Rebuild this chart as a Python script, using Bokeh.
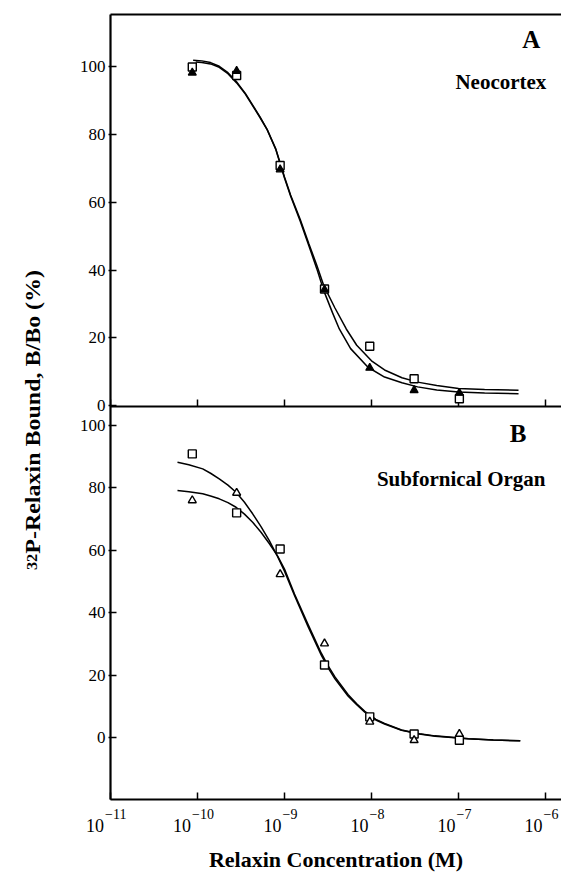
from bokeh.plotting import figure
from bokeh.models import (Range1d, FixedTicker, LogAxis, Label, Div, Span,
                          CustomJSTickFormatter)
from bokeh.layouts import row, column
from bokeh.core.properties import value
from bokeh.embed import file_html
from bokeh.resources import INLINE

# ---------------- data ----------------
# log10 of relaxin concentration (M) for the measured points
log_conc = [-10.06, -9.55, -9.05, -8.54, -8.02, -7.51, -6.99]

# Panel A: Neocortex
neo_square = [100.0, 97.5, 70.9, 34.4, 17.5, 7.9, 2.0]
neo_triangle = [98.3, 98.8, 69.7, 34.2, 11.1, 4.5, 3.7]

# Panel B: Subfornical Organ
sfo_square = [90.9, 72.0, 60.4, 23.2, 6.6, 1.1, -0.9]
sfo_triangle = [76.0, 78.4, 52.3, 30.1, 5.0, -0.9, 1.1]

# fitted curves
neo_sq_curve_x = [-10.05, -9.95, -9.85, -9.75, -9.65, -9.55, -9.45, -9.36, -9.28, -9.2, -9.1,
                  -9.0, -8.93, -8.82, -8.72, -8.63, -8.55, -8.42, -8.29, -8.17, -8.0, -7.85,
                  -7.65, -7.47, -7.25, -7.0, -6.7, -6.31]
neo_sq_curve_y = [102.0, 101.8, 101.3, 100.2, 98.3, 95.6, 92.2, 88.5, 85.2, 81.6, 75.8,
                  67.5, 62.2, 55.0, 47.8, 41.5, 35.5, 28.8, 22.6, 17.8, 13.2, 10.5,
                  8.2, 6.9, 5.9, 5.0, 4.7, 4.5]
neo_tri_curve_x = [-10.02, -9.95, -9.85, -9.75, -9.65, -9.55, -9.45, -9.36, -9.28, -9.2, -9.1,
                   -9.0, -8.93, -8.82, -8.72, -8.63, -8.55, -8.45, -8.37, -8.24, -8.04, -7.85,
                   -7.65, -7.47, -7.25, -7.0, -6.7, -6.31]
neo_tri_curve_y = [101.5, 101.3, 100.9, 99.9, 98.0, 95.3, 92.0, 88.3, 85.0, 81.5, 75.6,
                   67.2, 61.9, 54.5, 47.2, 40.5, 34.0, 27.5, 22.6, 16.8, 11.3, 8.4,
                   6.7, 5.5, 4.6, 4.0, 3.7, 3.5]

sfo_curve_x = [-10.23, -10.1, -9.94, -9.85, -9.75, -9.65, -9.557, -9.46, -9.366, -9.27, -9.173,
               -9.08, -9.0, -8.885, -8.73, -8.577, -8.5, -8.42, -8.27, -8.17, -8.077, -7.95,
               -7.85, -7.655, -7.45, -7.27, -6.887, -6.6, -6.29]
sfo_sq_curve_y = [88.2, 87.4, 86.1, 84.7, 82.9, 80.9, 78.6, 75.4, 71.7, 67.6, 63.0,
                  58.0, 53.3, 45.5, 35.6, 26.4, 22.4, 18.8, 13.3, 10.5, 8.1, 5.6,
                  4.3, 2.3, 1.1, 0.4, -0.4, -0.8, -1.1]
sfo_tri_curve_y = [79.2, 78.8, 78.1, 77.4, 76.5, 75.3, 73.8, 71.6, 69.0, 65.8, 62.1,
                   58.2, 54.0, 46.0, 36.3, 27.0, 23.0, 19.4, 13.8, 10.8, 8.4, 5.8,
                   4.5, 2.4, 1.2, 0.5, -0.4, -0.8, -1.1]

x_ticks = [1e-11, 1e-10, 1e-9, 1e-8, 1e-7, 1e-6]
x_tick_base = ["10", "10", "10", "10", "10", "10"]
x_tick_exp = ["\u221211", "\u221210", "\u22129", "\u22128", "\u22127", "\u22126"]
y_ticks = [0, 20, 40, 60, 80, 100]

x_title = "Relaxin Concentration (M)"
y_title_sup = "32"
y_title_rest = "P-Relaxin Bound, B/Bo (%)"
panel_a = "A"
panel_b = "B"
name_a = "Neocortex"
name_b = "Subfornical Organ"

# ---------------- layout constants ----------------
FONT = "Liberation Serif"
INK = "black"
LEFT_W = 56            # width of the rotated y-title column
FIG_W = 505
BORDER_L = 54
TOP_PAD = 14
H_A, H_B = 392, 393    # frame heights of panel A and panel B (px)
FRAME_H = H_A + H_B
X_LO_LOG, X_HI_LOG = -11.0, -5.816
A_LO, A_HI = -0.3, 115.5     # panel A value range (bottom, top)
B_LO, B_HI = -19.9, 106.1    # panel B value range (bottom, top)

# one frame holds both panels: panel B uses the main y range, panel A an extra one
b_scale = H_B / (B_HI - B_LO)
a_scale = H_A / (A_HI - A_LO)
main_hi = B_LO + FRAME_H / b_scale
a_lo_full = A_LO - H_B / a_scale


def a_to_main(v):
    return B_LO + (v - a_lo_full) * a_scale / b_scale


def tolin(xs):
    return [10 ** v for v in xs]


x_range = Range1d(10 ** X_LO_LOG, 10 ** X_HI_LOG)
blank = CustomJSTickFormatter(code="return ''")

p = figure(width=FIG_W, height=TOP_PAD + FRAME_H + 2, x_axis_type="log", x_range=x_range,
           y_range=Range1d(B_LO, main_hi), output_backend="svg", toolbar_location=None,
           min_border_left=BORDER_L, min_border_right=0, min_border_top=TOP_PAD,
           min_border_bottom=2)
p.extra_y_ranges = {"A": Range1d(a_lo_full, A_HI)}
p.grid.visible = False
p.outline_line_color = None

# left axis: ticks of both panels on one line
tick_pos = [float(v) for v in y_ticks] + [a_to_main(v) for v in y_ticks]
tick_lab = [str(v) for v in y_ticks] * 2
ya = p.yaxis[0]
ya.ticker = FixedTicker(ticks=tick_pos)
ya.formatter = CustomJSTickFormatter(args=dict(pos=tick_pos, labs=tick_lab), code="""
for (let i = 0; i < pos.length; i++) { if (Math.abs(tick - pos[i]) < 1e-6) return labs[i]; }
return '';
""")
ya.major_tick_in = 6
ya.major_tick_out = 2
ya.major_tick_line_width = 1.5
ya.axis_line_width = 2.2
ya.major_label_text_font = FONT
ya.major_label_text_font_size = "17px"
ya.major_label_text_color = INK
ya.major_label_standoff = 3
ya.minor_tick_line_color = None

# bottom axis (panel B)
xa = p.xaxis[0]
xa.ticker = FixedTicker(ticks=x_ticks)
xa.formatter = blank
xa.major_label_text_font_size = "1px"
xa.major_label_standoff = 0
xa.major_tick_in = 7
xa.major_tick_out = 0
xa.major_tick_line_width = 1.5
xa.axis_line_width = 2.2
xa.minor_tick_line_color = None

# top border line
above = LogAxis(axis_line_width=2.2, major_tick_line_color=None, minor_tick_line_color=None)
above.ticker = FixedTicker(ticks=x_ticks)
above.formatter = blank
above.major_label_text_font_size = "1px"
above.major_label_standoff = 0
above.major_tick_in = 0
above.major_tick_out = 0
p.add_layout(above, "above")

# panel A's own x axis line, with upward ticks
p.add_layout(Span(location=A_LO, dimension="width", y_range_name="A",
                  line_color=INK, line_width=2.2))
p.segment(x0=x_ticks, x1=x_ticks, y0=[A_LO] * len(x_ticks),
          y1=[A_LO + 7 / a_scale] * len(x_ticks), y_range_name="A",
          line_color=INK, line_width=1.5)

# panel A data
p.line(tolin(neo_sq_curve_x), neo_sq_curve_y, y_range_name="A", line_color=INK, line_width=1.5)
p.line(tolin(neo_tri_curve_x), neo_tri_curve_y, y_range_name="A", line_color=INK, line_width=1.5)
p.scatter(tolin(log_conc), neo_square, y_range_name="A", marker="square", size=8,
          fill_color="white", line_color=INK, line_width=1.4)
p.scatter(tolin(log_conc), neo_triangle, y_range_name="A", marker="triangle", size=8,
          fill_color=INK, line_color=INK, line_width=1.2)

# panel B data
p.line(tolin(sfo_curve_x), sfo_sq_curve_y, line_color=INK, line_width=1.5)
p.line(tolin(sfo_curve_x), sfo_tri_curve_y, line_color=INK, line_width=1.5)
p.scatter(tolin(log_conc), sfo_square, marker="square", size=8, fill_color="white",
          line_color=INK, line_width=1.4)
p.scatter(tolin(log_conc), sfo_triangle, marker="triangle", size=8, fill_color="white",
          line_color=INK, line_width=1.4)

p.add_layout(Label(x=10 ** -6.06, y=108, y_range_name="A", text=panel_a, text_align="right",
                   text_baseline="middle", text_font=FONT, text_font_size="25px",
                   text_font_style="bold", text_color=INK))
p.add_layout(Label(x=10 ** -5.99, y=95.6, y_range_name="A", text=name_a, text_align="right",
                   text_baseline="middle", text_font=FONT, text_font_size="21px",
                   text_font_style="bold", text_color=INK))
p.add_layout(Label(x=10 ** -6.22, y=97.4, text=panel_b, text_align="right",
                   text_baseline="middle", text_font=FONT, text_font_size="25px",
                   text_font_style="bold", text_color=INK))
p.add_layout(Label(x=10 ** -6.0, y=83, text=name_b, text_align="right",
                   text_baseline="middle", text_font=FONT, text_font_size="21px",
                   text_font_style="bold", text_color=INK))

# ---------------- x tick labels and x title (full-width strip below) ----------------
STRIP_H = 72
STRIP_W = LEFT_W + FIG_W
decade_px = (FIG_W - BORDER_L) / (X_HI_LOG - X_LO_LOG)
strip = figure(width=STRIP_W, height=STRIP_H, x_axis_type="log",
               x_range=Range1d(10 ** (X_LO_LOG - (LEFT_W + BORDER_L) / decade_px),
                               10 ** X_HI_LOG),
               y_range=Range1d(0, STRIP_H), x_axis_location=None, y_axis_location=None,
               output_backend="svg", toolbar_location=None,
               min_border_left=0, min_border_right=0, min_border_top=0, min_border_bottom=0)
strip.grid.visible = False
strip.outline_line_color = None

BASE_PX, EXP_PX = 18, 14
base_w = [0.5 * BASE_PX * len(b) for b in x_tick_base]
exp_w = [0.564 * EXP_PX + 0.5 * EXP_PX * (len(e) - 1) for e in x_tick_exp]
lefts = [-(bw + 1 + ew) / 2 - 4 for bw, ew in zip(base_w, exp_w)]
strip.text(x=x_ticks, y=[STRIP_H - 24] * len(x_ticks), text=x_tick_base, x_offset=lefts,
           text_align="left", text_baseline="alphabetic", text_font=value(FONT),
           text_font_size=f"{BASE_PX}px", text_color=INK)
strip.text(x=x_ticks, y=[STRIP_H - 12] * len(x_ticks), text=x_tick_exp,
           x_offset=[l + bw + 1 for l, bw in zip(lefts, base_w)],
           text_align="left", text_baseline="alphabetic", text_font=value(FONT),
           text_font_size=f"{EXP_PX}px", text_color=INK)
strip.text(x=[10 ** ((X_LO_LOG + X_HI_LOG) / 2)], y=[14], text=[x_title],
           text_align="center", text_baseline="middle", text_font=value(FONT),
           text_font_size="22px", text_font_style="bold", text_color=INK)

# ---------------- shared y title ----------------
ylabel_html = (
    '<div style="position:relative;width:56px;height:800px;">'
    '<div style="position:absolute;left:33px;top:420px;'
    'transform:translate(-50%,-50%) rotate(-90deg) scaleX(1.09);white-space:nowrap;'
    "font-family:'Liberation Serif';font-weight:bold;font-size:22px;color:black;\">"
    '<span style="font-size:15px;position:relative;top:-3px;">' + y_title_sup + '</span>'
    + y_title_rest + '</div></div>'
)
ylabel = Div(text=ylabel_html, width=LEFT_W, height=TOP_PAD + FRAME_H + 2,
             margin=(0, 0, 0, 0))

layout = column(row(ylabel, p, spacing=0), strip, spacing=0)

open("out.html", "w").write(file_html(layout, INLINE))
